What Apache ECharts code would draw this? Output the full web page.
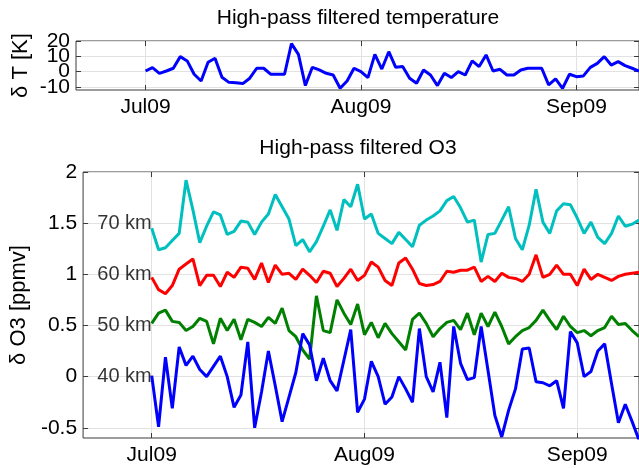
<!DOCTYPE html>
<html>
<head>
    <title>High-pass filtered O3</title>
    <meta charset="utf-8">
    <script src="https://cdn.jsdelivr.net/npm/echarts@6/dist/echarts.min.js"></script>
    <style>
        html, body { margin: 0; padding: 0; background: #fff; }
        #main { width: 639px; height: 468px; }
    </style>
</head>
<body>
<div id="main"></div>
<script type="text/javascript">
    // x = days since 1 Jul 2009
    var days = [];
    for (var i = 0; i < 72; i++) days.push(i);
    var monthTicks = [0, 31, 62];
    var monthNames = ['Jul09', 'Aug09', 'Sep09'];
    var tTicks = [-10, 0, 10, 20];
    var o3Ticks = [-0.5, 0, 0.5, 1, 1.5, 2];

    // high-pass filtered temperature [K]
    var dT = [0.4, 2.6, -1.1, 0.4, 2.2, 9.8, 7.0, -1.7, -6.1, 6.1,
        8.7, -3.7, -7.0, -7.2, -7.8, -4.3, 2.2, 2.2, -1.7, -1.7,
        -1.7, 18.3, 11.3, -9.1, 2.8, 1.1, -1.1, -2.2, -10.9, -6.1,
        2.2, 0, -3.9, 11.3, 1.7, 13.0, 2.8, 3.3, -4.3, -7.6,
        1.1, -2.2, -9.1, -1.1, -3.9, 0, -2.2, 7.0, 3.3, 10.9,
        0.4, 1.5, -2.2, -2.2, 1.1, 2.2, 2.2, 2.2, -8.7, -4.8,
        -10.9, -1.7, -3.3, -2.8, 2.8, 5.4, 9.8, 4.3, 6.5, 3.9,
        2.2, 0.4];

    // high-pass filtered O3 [ppmv], offset per altitude
    var o3_70 = [1.45, 1.24, 1.26, 1.33, 1.40, 1.92, 1.63, 1.31, 1.47, 1.61,
        1.58, 1.39, 1.42, 1.52, 1.51, 1.39, 1.51, 1.59, 1.78, 1.66,
        1.54, 1.28, 1.34, 1.22, 1.32, 1.47, 1.63, 1.43, 1.73, 1.66,
        1.88, 1.54, 1.59, 1.40, 1.35, 1.30, 1.41, 1.34, 1.27, 1.48,
        1.53, 1.57, 1.62, 1.72, 1.76, 1.65, 1.51, 1.53, 1.12, 1.39,
        1.40, 1.53, 1.66, 1.35, 1.24, 1.48, 1.83, 1.51, 1.40, 1.62,
        1.69, 1.68, 1.55, 1.40, 1.51, 1.36, 1.30, 1.40, 1.57, 1.47,
        1.49, 1.53];
    var o3_60 = [0.97, 0.85, 0.81, 0.89, 1.05, 1.10, 1.15, 0.89, 0.99, 0.99,
        0.88, 1.02, 0.97, 1.07, 1.06, 0.95, 1.11, 0.92, 1.09, 1.00,
        1.01, 0.95, 1.05, 0.99, 0.92, 1.03, 1.01, 0.88, 0.96, 1.05,
        0.94, 0.99, 1.12, 1.07, 0.94, 0.89, 1.11, 1.16, 1.05, 0.91,
        0.89, 0.90, 0.93, 1.03, 1.02, 1.04, 1.04, 1.07, 0.93, 0.98,
        0.93, 1.01, 0.97, 0.96, 0.93, 1.00, 1.19, 0.97, 1.00, 1.09,
        1.00, 1.00, 0.89, 1.05, 0.95, 1.00, 0.97, 0.94, 0.98, 1.00,
        1.01, 1.02];
    var o3_50 = [0.52, 0.62, 0.65, 0.54, 0.53, 0.45, 0.49, 0.57, 0.54, 0.32,
        0.57, 0.45, 0.56, 0.36, 0.56, 0.53, 0.49, 0.58, 0.52, 0.67,
        0.45, 0.39, 0.26, 0.17, 0.79, 0.45, 0.43, 0.75, 0.62, 0.51,
        0.71, 0.41, 0.53, 0.38, 0.52, 0.42, 0.34, 0.26, 0.56, 0.62,
        0.52, 0.39, 0.47, 0.53, 0.55, 0.46, 0.62, 0.41, 0.62, 0.49,
        0.63, 0.49, 0.32, 0.39, 0.45, 0.48, 0.55, 0.65, 0.55, 0.46,
        0.59, 0.49, 0.43, 0.45, 0.40, 0.45, 0.48, 0.59, 0.51, 0.52,
        0.45, 0.39];
    var o3_40 = [0.01, -0.49, 0.19, -0.31, 0.29, 0.11, 0.20, 0.07, 0.00, 0.10,
        0.20, 0.00, -0.30, -0.18, 0.34, -0.50, -0.15, 0.25, -0.09, -0.44,
        -0.20, 0.04, 0.42, 0.31, -0.04, 0.18, -0.04, -0.14, 0.16, 0.46,
        -0.35, -0.22, 0.15, 0.00, -0.27, -0.20, 0.00, -0.12, -0.25, 0.47,
        0.00, -0.15, 0.14, -0.40, 0.49, 0.13, -0.03, -0.01, 0.49, 0.06,
        -0.38, -0.59, -0.33, -0.12, 0.27, 0.28, -0.05, -0.06, -0.09, -0.04,
        -0.31, 0.44, 0.33, 0.00, 0.05, 0.25, 0.32, -0.07, -0.45, -0.27,
        -0.44, -0.62];

    var levelNames = ['70 km', '60 km', '50 km', '40 km'];
    var levelValues = [1.5, 1.0, 0.5, 0.0];
    var levelLabelX = -8;

    var font = 'Liberation Sans, Arial, Helvetica, sans-serif';
    var frameColor = '#3a3a3a';
    var gridColor = '#e2e2e2';

    function pairs(ys) {
        return days.map(function (d, i) { return [d, ys[i]]; });
    }

    function xAxisFor(gi, pos, withLabels) {
        return {
            type: 'value', gridIndex: gi, position: pos, min: -10, max: 71,
            axisLine: {show: false, onZero: false},
            axisTick: {show: true, inside: true, length: 5, customValues: monthTicks,
                lineStyle: {color: frameColor}},
            axisLabel: {show: withLabels, customValues: monthTicks, margin: 7,
                fontFamily: font, fontSize: 21, color: '#000',
                formatter: function (v) { return monthNames[monthTicks.indexOf(v)]; }},
            splitLine: {show: withLabels, lineStyle: {color: gridColor, width: 1}}
        };
    }

    // labelValues lets the tightly packed temperature labels be split over two axes,
    // so ECharts does not drop any of them for overlapping
    function yAxisFor(gi, pos, min, max, ticks, name, labelValues) {
        var main = pos === 'left';
        return {
            type: 'value', gridIndex: gi, position: pos, min: min, max: max,
            name: main ? name : '', nameLocation: 'middle', nameGap: 44,
            nameTextStyle: {fontFamily: font, fontSize: 22, color: '#000'},
            axisLine: {show: false, onZero: false},
            axisTick: {show: !!ticks, inside: true, length: 5, customValues: ticks || [],
                lineStyle: {color: frameColor}},
            axisLabel: {show: main, customValues: labelValues || ticks, margin: 6,
                showMinLabel: true, showMaxLabel: true, hideOverlap: false,
                fontFamily: font, fontSize: 21, color: '#000'},
            splitLine: {show: main && !!ticks, lineStyle: {color: gridColor, width: 1}}
        };
    }

    function line(name, xi, yi, ys, color) {
        return {
            name: name, type: 'line', xAxisIndex: xi, yAxisIndex: yi,
            data: pairs(ys), symbol: 'none', clip: true,
            lineStyle: {color: color, width: 3}, itemStyle: {color: color}
        };
    }

    var chart = echarts.init(document.getElementById('main'));

    var option = {
        animation: false,
        backgroundColor: '#fff',
        grid: [
            {left: 76, top: 41, width: 564, height: 49, show: true,
                borderColor: frameColor, borderWidth: 1, backgroundColor: 'transparent'},
            {left: 76, top: 172, width: 564, height: 266, show: true,
                borderColor: frameColor, borderWidth: 1, backgroundColor: 'transparent'}
        ],
        xAxis: [
            xAxisFor(0, 'bottom', true),
            xAxisFor(0, 'top', false),
            xAxisFor(1, 'bottom', true),
            xAxisFor(1, 'top', false)
        ],
        yAxis: [
            yAxisFor(0, 'left', -12, 20, tTicks, 'δ T [K]', [20, 0]),
            yAxisFor(0, 'right', -12, 20, tTicks, ''),
            yAxisFor(1, 'left', -0.6, 2, o3Ticks, 'δ O3 [ppmv]'),
            yAxisFor(1, 'right', -0.6, 2, o3Ticks, ''),
            yAxisFor(0, 'left', -12, 20, null, '', [10, -10])
        ],
        graphic: [
            {type: 'text', x: 358, y: 18, silent: true,
                style: {text: 'High-pass filtered temperature', fontFamily: font, fontSize: 21,
                    fill: '#000', align: 'center', verticalAlign: 'middle'}},
            {type: 'text', x: 358, y: 148, silent: true,
                style: {text: 'High-pass filtered O3', fontFamily: font, fontSize: 21,
                    fill: '#000', align: 'center', verticalAlign: 'middle'}}
        ],
        series: [
            line('dT', 0, 0, dT, '#0000ff'),
            line('70 km', 2, 2, o3_70, '#00bfbf'),
            line('60 km', 2, 2, o3_60, '#ff0000'),
            line('50 km', 2, 2, o3_50, '#008000'),
            line('40 km', 2, 2, o3_40, '#0000ff'),
            {
                type: 'scatter', xAxisIndex: 2, yAxisIndex: 2, silent: true,
                symbolSize: 1, itemStyle: {color: 'transparent'},
                data: levelNames.map(function (n, i) {
                    return {name: n, value: [levelLabelX, levelValues[i]]};
                }),
                label: {show: true, position: 'right', distance: 0,
                    formatter: '{b}', fontFamily: font, fontSize: 20, color: '#000'}
            }
        ]
    };

    chart.setOption(option);
</script>
</body>
</html>
